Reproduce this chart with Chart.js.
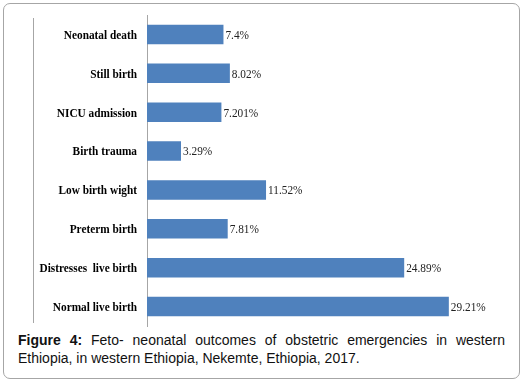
<!DOCTYPE html>
<html>
<head>
<meta charset="utf-8">
<script src="https://cdn.jsdelivr.net/npm/chart.js@4/dist/chart.umd.min.js"></script>
<style>
  html, body { margin: 0; padding: 0; background: #fff; }
  #wrap { position: relative; width: 527px; height: 386px; }
  #frame {
    position: absolute; left: 3px; top: 3px; width: 515px; height: 374px;
    border: 1px solid #a6a6a6; border-radius: 7px;
  }
  #chart { position: absolute; left: 0; top: 0; }
  #caption {
    position: absolute; left: 18px; top: 331px; width: 487px;
    font-family: "Liberation Sans", Arial, sans-serif; font-size: 14px;
    line-height: 18px; color: #111; text-align: justify;
  }
</style>
</head>
<body>
<div id="wrap">
  <div id="frame"></div>
  <canvas id="chart" width="527" height="330"></canvas>
  <div id="caption"><b>Figure 4:</b> Feto- neonatal outcomes of obstetric emergencies in western Ethiopia, in western Ethiopia, Nekemte, Ethiopia, 2017.</div>
</div>
<script>
const categories = [
  "Neonatal death",
  "Still birth",
  "NICU admission",
  "Birth trauma",
  "Low birth wight",
  "Preterm birth",
  "Distresses  live birth",
  "Normal live birth",
];
const values = [7.4, 8.02, 7.201, 3.29, 11.52, 7.81, 24.89, 29.21];
const valueLabels = ["7.4%", "8.02%", "7.201%", "3.29%", "11.52%", "7.81%", "24.89%", "29.21%"];

const serif = '"Liberation Serif", "Times New Roman", serif';
const squeeze = 0.87; // the original text is a bit narrow

function narrowText(ctx, text, x, y) {
  ctx.save();
  ctx.translate(x, y);
  ctx.scale(squeeze, 1);
  ctx.fillText(text, 0, 0);
  ctx.restore();
}

// category names, value labels and the thin frame line on the left
const extras = {
  id: "extras",
  beforeDraw(chart) {
    const { ctx, chartArea } = chart;
    ctx.save();
    ctx.strokeStyle = "#a6a6a6";
    ctx.lineWidth = 1;
    ctx.beginPath();
    ctx.moveTo(33.5, chartArea.top + 3);
    ctx.lineTo(33.5, chartArea.bottom - 3);
    ctx.stroke();
    ctx.restore();
  },
  afterDatasetsDraw(chart) {
    const { ctx, chartArea } = chart;
    const yScale = chart.scales.y;
    const meta = chart.getDatasetMeta(0);
    ctx.save();
    ctx.textBaseline = "middle";
    ctx.fillStyle = "#000";
    ctx.font = "bold 13px " + serif;
    ctx.textAlign = "right";
    categories.forEach((name, i) => {
      narrowText(ctx, name, chartArea.left - 10, yScale.getPixelForTick(i) + 1);
    });
    ctx.font = "13px " + serif;
    ctx.fillStyle = "#222";
    ctx.textAlign = "left";
    meta.data.forEach((bar, i) => {
      narrowText(ctx, valueLabels[i], bar.x + 2, bar.y + 1);
    });
    ctx.restore();
  },
};

new Chart(document.getElementById("chart"), {
  type: "bar",
  data: {
    labels: categories,
    datasets: [
      {
        data: values,
        backgroundColor: "#4f81bd",
        borderWidth: 0,
        barPercentage: 0.5,
        categoryPercentage: 1,
      },
    ],
  },
  options: {
    indexAxis: "y",
    responsive: false,
    animation: false,
    layout: { padding: { top: 15, bottom: 4, right: 70, left: 0 } },
    plugins: {
      legend: { display: false },
      tooltip: { enabled: false },
    },
    scales: {
      x: {
        display: false,
        min: 0,
        max: 30,
      },
      y: {
        afterFit(scale) {
          scale.width = 147;
        },
        grid: { display: false },
        border: { display: true, color: "#a6a6a6", width: 1 },
        ticks: { display: false },
      },
    },
  },
  plugins: [extras],
});
</script>
</body>
</html>
